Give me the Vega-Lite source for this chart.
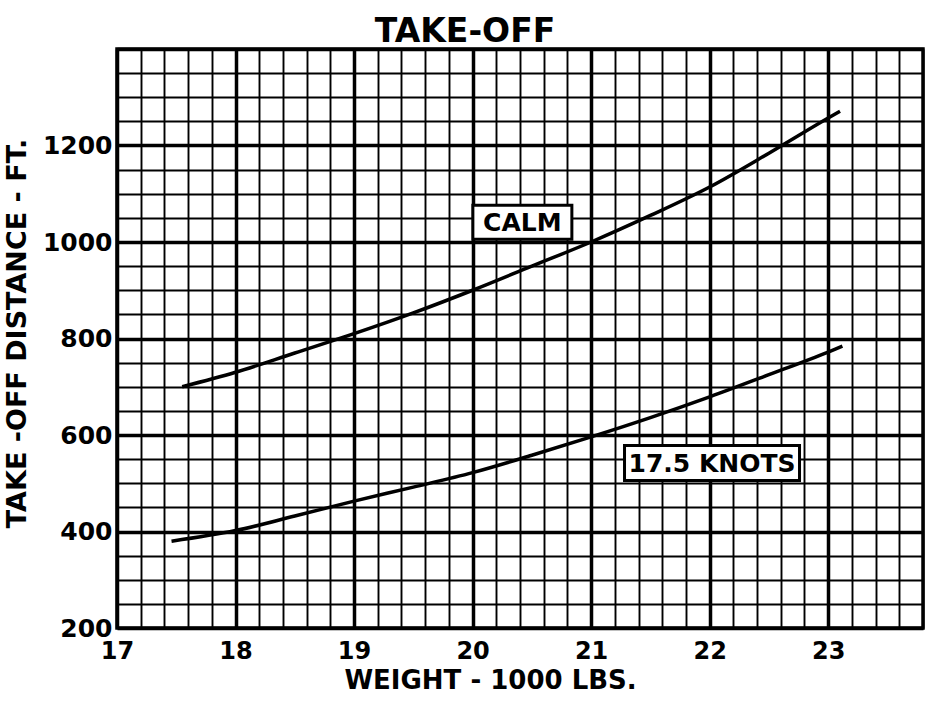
{
  "$schema": "https://vega.github.io/schema/vega-lite/v6.json",
  "autosize": "none",
  "padding": {"left": 117, "top": 49, "right": 8, "bottom": 76},
  "width": 806,
  "height": 579,
  "background": "white",
  "config": {
    "font": "DejaVu Sans",
    "view": {"stroke": "black", "strokeWidth": 3.5}
  },
  "title": {
    "text": "TAKE-OFF",
    "font": "DejaVu Sans",
    "fontSize": 33,
    "fontWeight": "bold",
    "color": "black",
    "anchor": "middle",
    "dx": -55,
    "dy": 17,
    "offset": 5
  },
  "datasets": {
    "curves": [
      {"series": "CALM", "weight": 17.55, "distance": 700},
      {"series": "CALM", "weight": 18, "distance": 730},
      {"series": "CALM", "weight": 18.5, "distance": 770},
      {"series": "CALM", "weight": 19, "distance": 810},
      {"series": "CALM", "weight": 19.5, "distance": 853},
      {"series": "CALM", "weight": 20, "distance": 900},
      {"series": "CALM", "weight": 20.5, "distance": 950},
      {"series": "CALM", "weight": 21, "distance": 1000},
      {"series": "CALM", "weight": 21.5, "distance": 1055},
      {"series": "CALM", "weight": 22, "distance": 1114},
      {"series": "CALM", "weight": 22.5, "distance": 1184},
      {"series": "CALM", "weight": 23, "distance": 1257},
      {"series": "CALM", "weight": 23.1, "distance": 1271},
      {"series": "17.5 KNOTS", "weight": 17.46, "distance": 380},
      {"series": "17.5 KNOTS", "weight": 18, "distance": 402},
      {"series": "17.5 KNOTS", "weight": 18.5, "distance": 432},
      {"series": "17.5 KNOTS", "weight": 19, "distance": 463},
      {"series": "17.5 KNOTS", "weight": 19.5, "distance": 492},
      {"series": "17.5 KNOTS", "weight": 20, "distance": 522},
      {"series": "17.5 KNOTS", "weight": 20.5, "distance": 558},
      {"series": "17.5 KNOTS", "weight": 21, "distance": 596},
      {"series": "17.5 KNOTS", "weight": 21.5, "distance": 636},
      {"series": "17.5 KNOTS", "weight": 22, "distance": 679},
      {"series": "17.5 KNOTS", "weight": 22.5, "distance": 725},
      {"series": "17.5 KNOTS", "weight": 23, "distance": 772},
      {"series": "17.5 KNOTS", "weight": 23.12, "distance": 784}
    ],
    "labels": [
      {"label": "CALM", "weight": 20.42, "distance": 1041},
      {"label": "17.5 KNOTS", "weight": 22.02, "distance": 542}
    ]
  },
  "layer": [
    {
      "data": {"name": "curves"},
      "mark": {"type": "line", "color": "black", "strokeWidth": 3.5, "interpolate": "monotone"},
      "encoding": {
        "x": {
          "field": "weight",
          "type": "quantitative",
          "scale": {"domain": [17, 23.8], "nice": false, "zero": false},
          "axis": {
            "values": [17, 17.2, 17.4, 17.6, 17.8, 18, 18.2, 18.4, 18.6, 18.8, 19, 19.2, 19.4, 19.6, 19.8, 20, 20.2, 20.4, 20.6, 20.8, 21, 21.2, 21.4, 21.6, 21.8, 22, 22.2, 22.4, 22.6, 22.8, 23, 23.2, 23.4, 23.6, 23.8],
            "tickCount": 200,
            "tickMinStep": 0.1,
            "labelExpr": "datum.value % 1 === 0 ? '' + datum.value : ''",
            "labelFont": "DejaVu Sans",
            "labelFontSize": 24,
            "labelFontWeight": "bold",
            "labelColor": "black",
            "labelPadding": 11,
            "labelOverlap": false,
            "labelFlush": false,
            "ticks": false,
            "domain": false,
            "grid": true,
            "gridColor": "black",
            "gridOpacity": 1,
            "gridWidth": {"condition": {"test": "datum.value % 1 === 0", "value": 3.5}, "value": 1.9},
            "title": "WEIGHT - 1000 LBS.",
            "titleFont": "DejaVu Sans",
            "titleFontSize": 26,
            "titleFontWeight": "bold",
            "titleColor": "black",
            "titleX": 373,
            "titleY": 39,
            "titleBaseline": "top"
          }
        },
        "y": {
          "field": "distance",
          "type": "quantitative",
          "scale": {"domain": [200, 1400], "nice": false, "zero": false},
          "axis": {
            "values": [200, 250, 300, 350, 400, 450, 500, 550, 600, 650, 700, 750, 800, 850, 900, 950, 1000, 1050, 1100, 1150, 1200, 1250, 1300, 1350, 1400],
            "tickCount": 200,
            "format": "d",
            "labelExpr": "datum.value % 200 === 0 && datum.value < 1400 ? datum.label : ''",
            "labelFont": "DejaVu Sans",
            "labelFontSize": 25,
            "labelFontWeight": "bold",
            "labelColor": "black",
            "labelPadding": 5,
            "labelOverlap": false,
            "labelFlush": false,
            "labelBaseline": "middle",
            "ticks": false,
            "domain": false,
            "grid": true,
            "gridColor": "black",
            "gridOpacity": 1,
            "gridWidth": {"condition": {"test": "datum.value % 200 === 0", "value": 3.5}, "value": 1.9},
            "title": "TAKE -OFF DISTANCE - FT.",
            "titleFont": "DejaVu Sans",
            "titleFontSize": 27,
            "titleFontWeight": "bold",
            "titleColor": "black",
            "titleX": -100,
            "titleY": 284,
            "titleAngle": 270,
            "titleAlign": "center",
            "titleBaseline": "middle"
          }
        },
        "detail": {"field": "series"}
      }
    },
    {
      "data": {"name": "labels"},
      "mark": {"type": "point", "filled": true, "fill": "white", "stroke": "black", "strokeWidth": 3, "opacity": 1, "fillOpacity": 1, "strokeOpacity": 1},
      "encoding": {
        "x": {"field": "weight", "type": "quantitative"},
        "y": {"field": "distance", "type": "quantitative"},
        "shape": {"condition": {"test": "datum.label === 'CALM'", "value": "M-1,-0.343H1V0.343H-1Z"}, "value": "M-1,-0.2H1V0.2H-1Z"},
        "size": {"condition": {"test": "datum.label === 'CALM'", "value": 9801}, "value": 30625}
      }
    },
    {
      "data": {"name": "labels"},
      "mark": {"type": "text", "font": "DejaVu Sans", "fontSize": 25, "fontWeight": "bold", "color": "black", "align": "center", "baseline": "middle", "dy": 1},
      "encoding": {
        "x": {"field": "weight", "type": "quantitative"},
        "y": {"field": "distance", "type": "quantitative"},
        "text": {"field": "label"}
      }
    }
  ]
}
